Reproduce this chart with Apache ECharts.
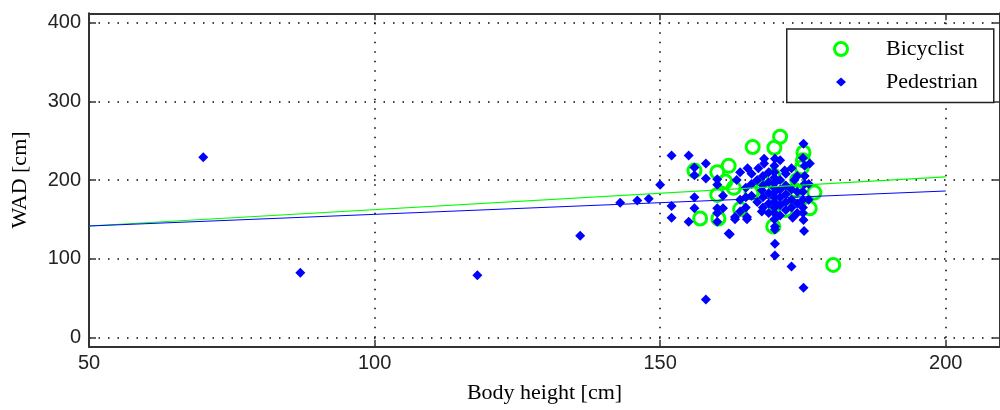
<!DOCTYPE html>
<html>
<head>
<meta charset="utf-8">
<style>html,body{margin:0;padding:0;background:#fff}#c{width:1000px;height:410px}</style>
<script src="https://cdn.jsdelivr.net/npm/echarts@6/dist/echarts.min.js"></script>
</head>
<body>
<div id="c"></div>
<script>
var xTicks = [50, 100, 150, 200];
var yTicks = [0, 100, 200, 300, 400];
var seriesNames = ['Bicyclist', 'Pedestrian'];
var bicyclist = [
  [166.2,242],[171,255],[170,241],[175.1,235],[174.8,216],[156,212],[160,210],[162,218],
  [162.9,190],[161.4,198],[160,181],[157,151],[160.2,151],[169.8,206],[169.8,141],[172,162],
  [173.6,187],[176.2,164],[180.3,92],[168,190],[174,200],[170.6,194],[166,184],[164,163],
  [175,225],[170,170],[177,184]
];
var pedestrian = [
  [70,229],[87,82],[118,79],[136,129],[143,171],[146,174],[148,176],[150,194],
  [152,231],[155,231],[152,167],[152,152],[155,147],[156,216],[156,206],[156,178],[156,164],
  [158,221],[158,202],[160,201],[160,194],[160,164],[160,158],[160,147],[161,180],[161,164],
  [162,132],[158,48],
  [168.2,227],[168.2,221],[170.1,227],[165.3,215],[167.2,215],[163.4,200],[167.8,187],
  [175.1,246],[176.2,221],[171.8,212],[173.5,200],[175.3,218],[175.3,205],[175.3,195],
  [163.1,153],[163.1,150],[165.2,153],[165.2,150],[162.2,131],[167.8,160],[170.1,141],
  [170.1,137],[170.1,119],[170.1,104],[173,90],[175.1,63],[175.2,135],[175.1,149],
  [173.2,152],[171,155],
  [166,208],[166,195],[166,180],[167,200],[167,172],[168,205],[168,193],[168,178],[168,165],
  [169,210],[169,197],[169,183],[169,170],[169,158],[170,218],[170,210],[170,203],[170,196],
  [170,190],[170,184],[170,178],[170,172],[170,165],[170,158],[170,150],[171,225],[171,200],
  [171,188],[171,178],[171,168],[172,208],[172,193],[172,182],[172,172],[172,162],[173,215],
  [173,188],[173,175],[173,165],[174,205],[174,185],[174,170],[174,158],[175,228],[175,185],
  [175,175],[175,165],[175,158],[176,195],[176,175],[164,210],[164,175],[164,160],[165,190],
  [165,178],[165,165]
];
var fitBicyclist = [[50,141.5],[200,204]];
var fitPedestrian = [[50,141.5],[200,186]];

var frameLine = {show: true, onZero: false, lineStyle: {color: '#333', width: 2}};
var tickStyle = {color: '#333', width: 1.5};
var dotLine = {show: true, lineStyle: {type: [1.5, 8], color: '#000', width: 1.5}};
var tickFont = {fontFamily: 'Liberation Sans', fontSize: 20, color: '#222'};
var nameFont = {fontFamily: 'Liberation Serif', fontSize: 22, color: '#000'};

var chart = echarts.init(document.getElementById('c'), null, {renderer: 'canvas'});
chart.setOption({
  animation: false,
  backgroundColor: '#fff',
  grid: {left: 89, right: -1, top: 13.3, bottom: 63.3, containLabel: false},
  xAxis: [{
    type: 'value', min: 50, max: 209.5, position: 'bottom',
    axisLine: frameLine,
    axisTick: {show: true, inside: true, length: 7, customValues: xTicks, lineStyle: tickStyle},
    axisLabel: Object.assign({show: true, margin: 7, customValues: xTicks}, tickFont),
    splitLine: dotLine,
    name: 'Body height [cm]', nameLocation: 'middle', nameGap: 36, nameTextStyle: nameFont
  }, {
    type: 'value', min: 50, max: 209.5, position: 'top',
    axisLine: frameLine,
    axisTick: {show: true, inside: true, length: 7, customValues: xTicks, lineStyle: tickStyle},
    axisLabel: {show: false}, splitLine: {show: false}
  }],
  yAxis: [{
    type: 'value', min: -12, max: 412, position: 'left',
    axisLine: frameLine,
    axisTick: {show: true, inside: true, length: 7, customValues: yTicks, lineStyle: tickStyle},
    axisLabel: Object.assign({show: true, margin: 8, customValues: yTicks}, tickFont),
    splitLine: dotLine,
    name: 'WAD [cm]', nameLocation: 'middle', nameGap: 58, nameRotate: 90, nameTextStyle: nameFont
  }, {
    type: 'value', min: -12, max: 412, position: 'right',
    axisLine: frameLine,
    axisTick: {show: true, inside: true, length: 7, customValues: yTicks, lineStyle: tickStyle},
    axisLabel: {show: false}, splitLine: {show: false}
  }],
  legend: [{
    data: [seriesNames[0]], left: 833, top: 38, padding: 0, itemWidth: 16, itemHeight: 13,
    selectedMode: false,
    textStyle: Object.assign({padding: [0, 0, 0, 32]}, nameFont),
    itemStyle: {borderWidth: 3}
  }, {
    data: [seriesNames[1]], left: 836, top: 71, padding: 0, itemWidth: 10, itemHeight: 9,
    selectedMode: false,
    textStyle: Object.assign({padding: [0, 0, 0, 35]}, nameFont)
  }],
  graphic: [{
    type: 'rect', left: 786, top: 28.3, z: 3,
    shape: {width: 207, height: 73.4},
    style: {fill: '#fff', stroke: '#222', lineWidth: 1.5}
  }],
  series: [{
    name: seriesNames[0], type: 'scatter', data: bicyclist, symbol: 'circle', symbolSize: 13,
    symbolKeepAspect: true,
    itemStyle: {color: 'rgba(0,0,0,0)', borderColor: '#00ff00', borderWidth: 3, opacity: 1},
    z: 2
  }, {
    name: seriesNames[1], type: 'scatter', data: pedestrian, symbol: 'diamond', symbolSize: 10,
    symbolKeepAspect: true,
    itemStyle: {color: '#0000ff', opacity: 1},
    z: 3
  }, {
    name: 'fitB', type: 'line', data: fitBicyclist, showSymbol: false, symbol: 'none',
    lineStyle: {color: '#00ff00', width: 1.2}, z: 4
  }, {
    name: 'fitP', type: 'line', data: fitPedestrian, showSymbol: false, symbol: 'none',
    lineStyle: {color: '#0000ff', width: 1.2}, z: 4
  }]
});
</script>
</body>
</html>
